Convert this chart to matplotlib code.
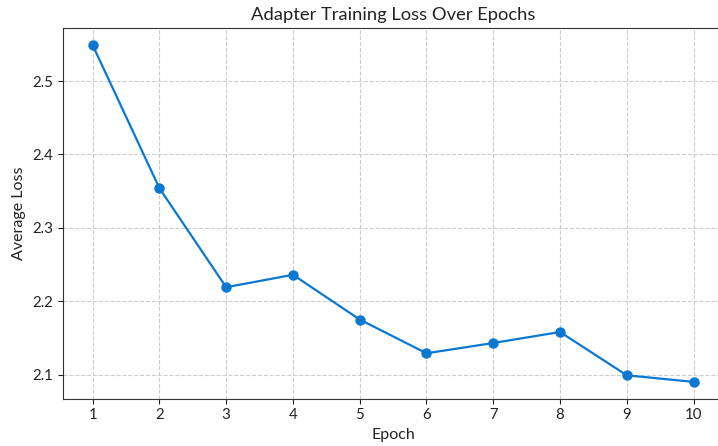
import matplotlib
matplotlib.use("Agg")
import matplotlib.pyplot as plt

plt.rcParams['font.family'] = ['Lato', 'DejaVu Sans']

epochs = [1, 2, 3, 4, 5, 6, 7, 8, 9, 10]
avg_loss = [2.549, 2.354, 2.219, 2.236, 2.175, 2.129, 2.143, 2.158, 2.099, 2.090]

fig = plt.figure(figsize=(7.18, 4.46), dpi=100)
ax = fig.add_axes([0.0872, 0.106, 0.9206, 0.8305])

ax.plot(epochs, avg_loss, marker='o', color='#0a78d0', linewidth=1.6, markersize=6.5)

ax.set_title('Adapter Training Loss Over Epochs', fontsize=13.2, color='#222222')
ax.set_xlabel('Epoch', fontsize=11.5, color='#222222')
ax.set_ylabel('Average Loss', fontsize=11.5, color='#222222')
ax.set_xticks(epochs)
ax.tick_params(labelsize=10.8, colors='#222222')
ax.grid(True, linestyle='--', color='#cccccc', linewidth=0.8)
for s in ax.spines.values():
    s.set_color('#333333')

fig.savefig('out.png', dpi=100)
